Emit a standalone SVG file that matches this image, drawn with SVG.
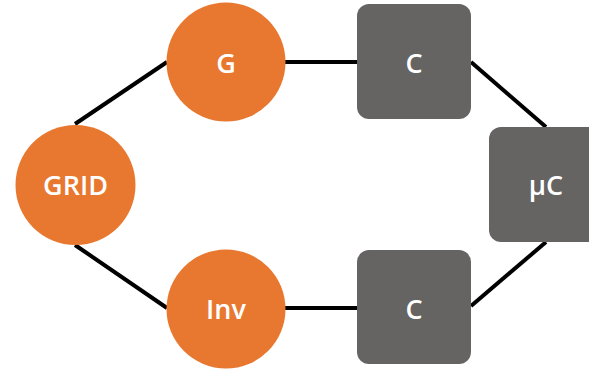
<svg xmlns="http://www.w3.org/2000/svg" width="589" height="371" viewBox="0 0 589 371">
<style>
.circ{fill:#E8782F}
.box{fill:#666363}
.lbl{fill:#ffffff;font-family:"Open Sans","Liberation Sans",sans-serif;font-weight:600;font-size:27px;text-anchor:middle;dominant-baseline:central}
.con{stroke:#000;stroke-width:4;fill:none}
</style>
<rect width="589" height="371" fill="#ffffff"/>
<g id="connectors">
<line class="con" x1="75" y1="124" x2="167" y2="62"/>
<line class="con" x1="75" y1="245" x2="167" y2="308"/>
<line class="con" x1="285" y1="62" x2="357" y2="62"/>
<line class="con" x1="285" y1="308" x2="357" y2="308"/>
<line class="con" x1="471" y1="62" x2="546" y2="127"/>
<line class="con" x1="471" y1="306" x2="546" y2="242"/>
</g>
<g id="grid"><circle class="circ" cx="75.5" cy="185" r="60"/><text class="lbl" x="75.5" y="184">GRID</text></g>
<g id="g"><circle class="circ" cx="226" cy="62" r="59.5"/><text class="lbl" x="226" y="62">G</text></g>
<g id="inv"><circle class="circ" cx="226" cy="309" r="59.5"/><text class="lbl" x="226" y="308">Inv</text></g>
<g id="c1"><rect class="box" x="357" y="4" width="114" height="115" rx="12"/><text class="lbl" x="414" y="62">C</text></g>
<g id="c2"><rect class="box" x="357" y="250" width="114" height="114" rx="12"/><text class="lbl" x="414" y="308">C</text></g>
<g id="uc"><rect class="box" x="489" y="127" width="114" height="115" rx="12"/><text class="lbl" x="546" y="184">μC</text></g>
</svg>
